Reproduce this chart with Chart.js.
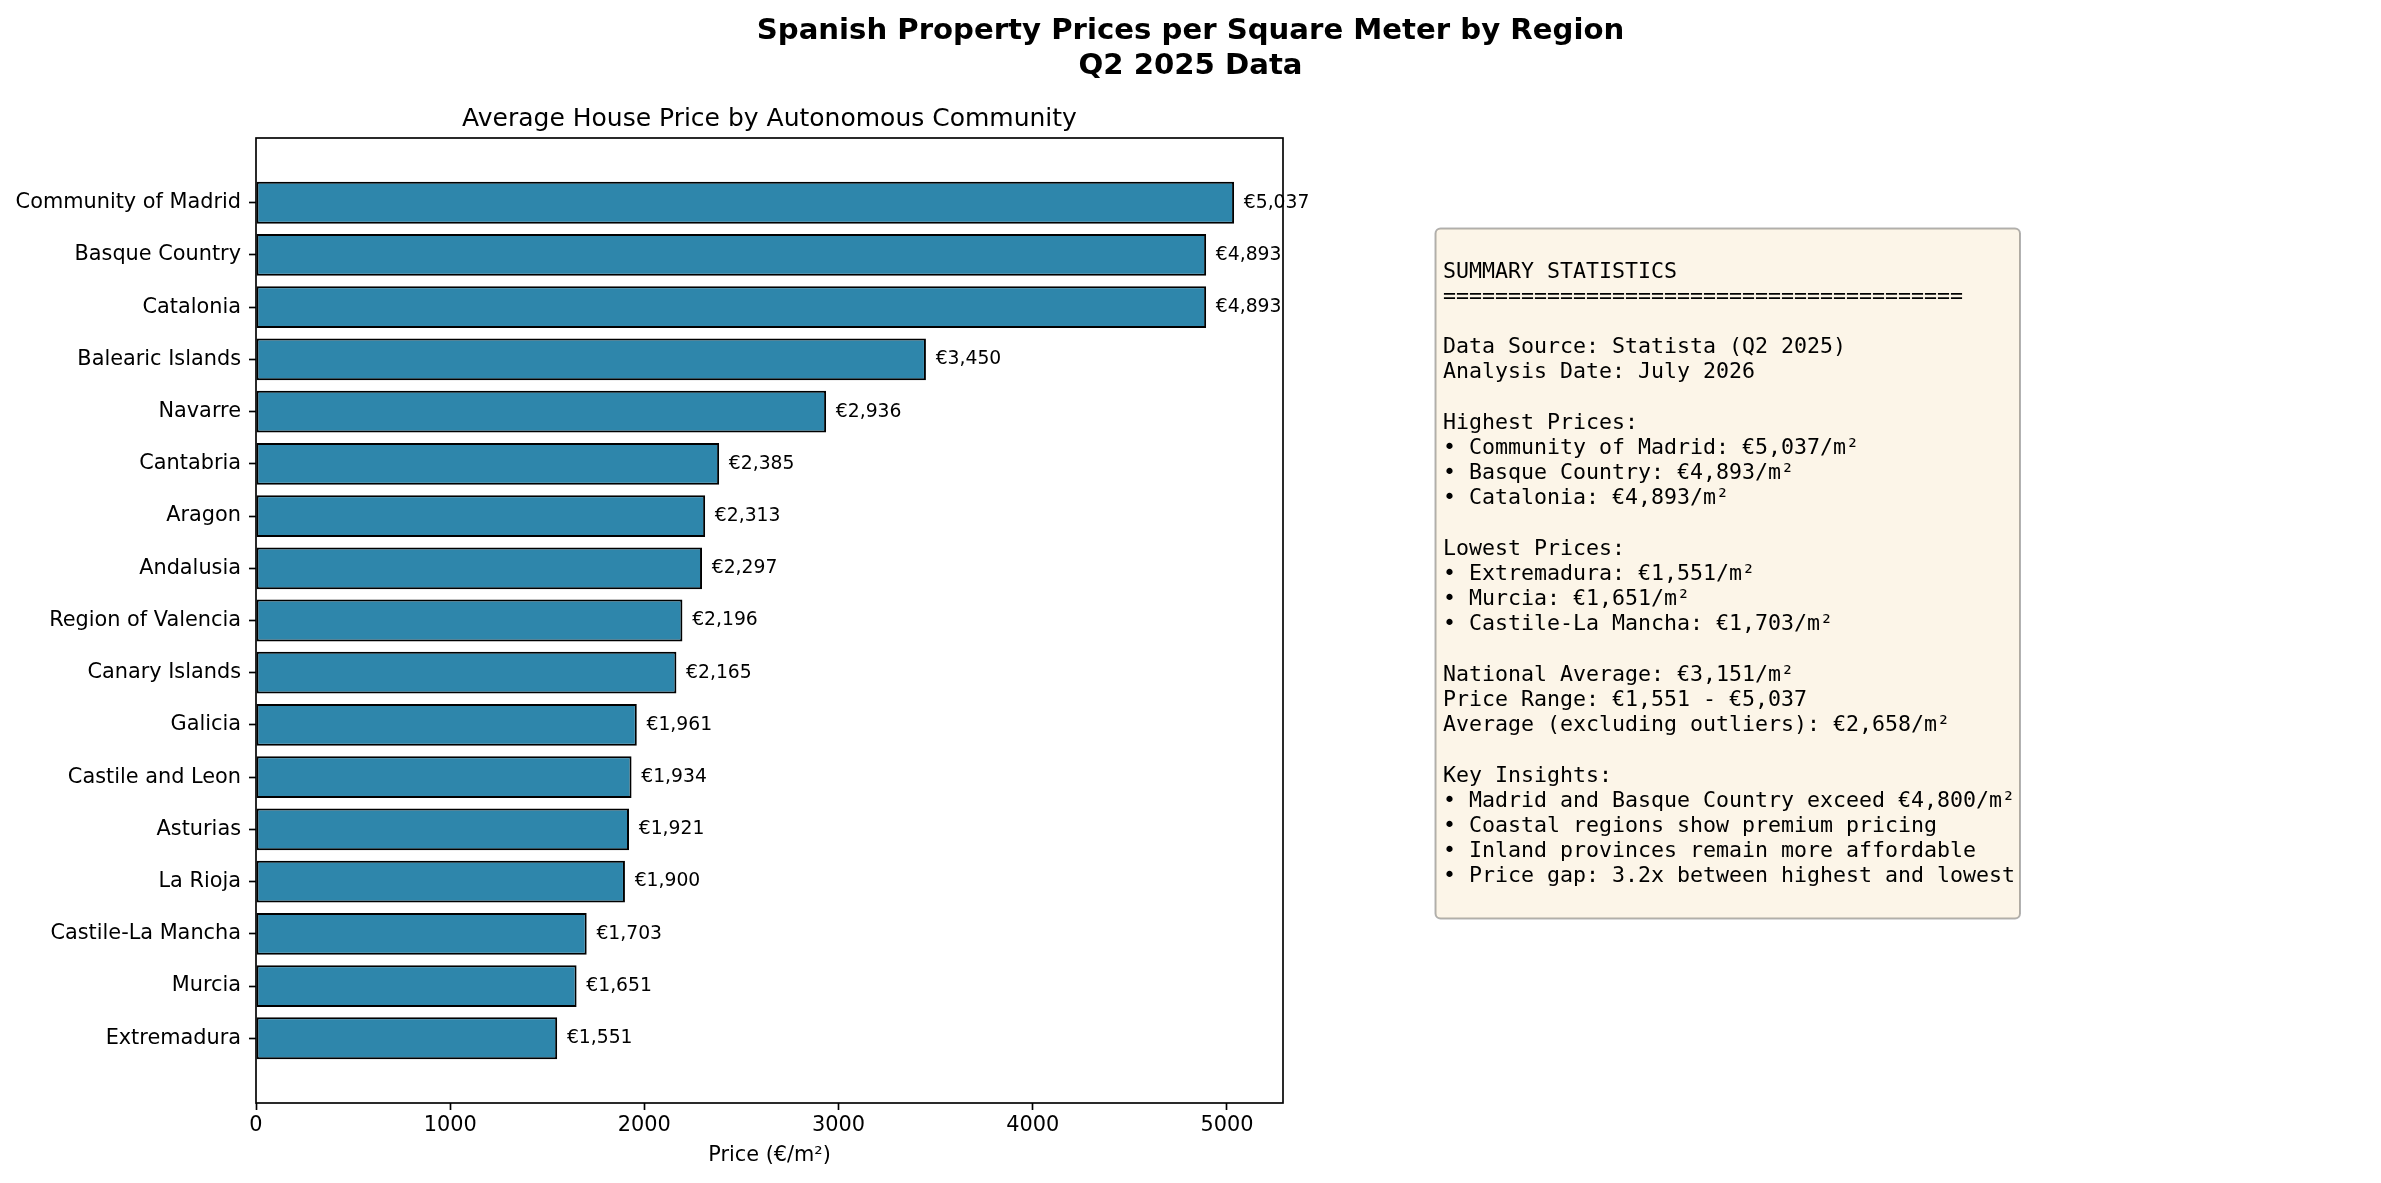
<!DOCTYPE html>
<html>
<head>
<meta charset="utf-8">
<title>Spanish Property Prices per Square Meter by Region</title>
<script src="https://cdn.jsdelivr.net/npm/chart.js@4.4.1/dist/chart.umd.min.js"></script>
<style>
  html, body { margin: 0; padding: 0; background: #fff; }
  #wrap { width: 2381px; height: 1183px; }
</style>
</head>
<body>
<div id="wrap"><canvas id="priceChart" width="2381" height="1183"></canvas></div>
<script>
// === Data ===
const regions = [
  "Community of Madrid", "Basque Country", "Catalonia", "Balearic Islands",
  "Navarre", "Cantabria", "Aragon", "Andalusia", "Region of Valencia",
  "Canary Islands", "Galicia", "Castile and Leon", "Asturias", "La Rioja",
  "Castile-La Mancha", "Murcia", "Extremadura",
];
const prices = [
  5037, 4893, 4893, 3450, 2936, 2385, 2313, 2297, 2196,
  2165, 1961, 1934, 1921, 1900, 1703, 1651, 1551,
];
const xTicks = [0, 1000, 2000, 3000, 4000, 5000];

const mainTitle = ["Spanish Property Prices per Square Meter by Region", "Q2 2025 Data"];

const summaryLines = [
  "SUMMARY STATISTICS",
  "========================================",
  "",
  "Data Source: Statista (Q2 2025)",
  "Analysis Date: July 2026",
  "",
  "Highest Prices:",
  "• Community of Madrid: €5,037/m²",
  "• Basque Country: €4,893/m²",
  "• Catalonia: €4,893/m²",
  "",
  "Lowest Prices:",
  "• Extremadura: €1,551/m²",
  "• Murcia: €1,651/m²",
  "• Castile-La Mancha: €1,703/m²",
  "",
  "National Average: €3,151/m²",
  "Price Range: €1,551 - €5,037",
  "Average (excluding outliers): €2,658/m²",
  "",
  "Key Insights:",
  "• Madrid and Basque Country exceed €4,800/m²",
  "• Coastal regions show premium pricing",
  "• Inland provinces remain more affordable",
  "• Price gap: 3.2x between highest and lowest",
];

// === Look ===
const FONT = "DejaVu Sans";
const MONO = "DejaVu Sans Mono";
const barColor = "#2E86AB";
const lineW = 1.67;

Chart.defaults.font.family = FONT;
Chart.defaults.color = "#000";

// matplotlib-style margins around the bars
const yPad = (regions.length - 1 + 0.8) * 0.05;

const extrasPlugin = {
  id: "extras",
  afterDatasetsDraw(chart) {
    const { ctx, chartArea } = chart;
    const xScale = chart.scales.x;

    // axes frame
    ctx.save();
    ctx.strokeStyle = "#000";
    ctx.lineWidth = lineW;
    ctx.strokeRect(chartArea.left, chartArea.top,
      chartArea.right - chartArea.left, chartArea.bottom - chartArea.top);

    // value labels
    ctx.font = "18.75px '" + FONT + "'";
    ctx.fillStyle = "#000";
    ctx.textAlign = "left";
    ctx.textBaseline = "middle";
    chart.getDatasetMeta(0).data.forEach((bar, i) => {
      const x = xScale.getPixelForValue(prices[i] + 50);
      ctx.fillText("€" + prices[i].toLocaleString("en-US"), x, bar.y);
    });
    ctx.restore();
  },
  afterDraw(chart) {
    const { ctx } = chart;
    ctx.save();

    // figure title
    ctx.font = "bold 29.17px '" + FONT + "'";
    ctx.fillStyle = "#000";
    ctx.textAlign = "center";
    ctx.textBaseline = "alphabetic";
    ctx.fillText(mainTitle[0], chart.width / 2, 38.5);
    ctx.fillText(mainTitle[1], chart.width / 2, 73.5);

    // summary box
    ctx.beginPath();
    ctx.roundRect(1435.5, 228.5, 584.5, 690, 5);
    ctx.fillStyle = "rgba(245, 222, 179, 0.3)";
    ctx.fill();
    ctx.strokeStyle = "rgba(0, 0, 0, 0.3)";
    ctx.lineWidth = 2;
    ctx.stroke();

    ctx.font = "21.6px '" + MONO + "'";
    ctx.fillStyle = "#000";
    ctx.textAlign = "left";
    ctx.textBaseline = "middle";
    summaryLines.forEach((line, i) => {
      ctx.fillText(line, 1443, 272 + i * 25.2);
    });
    ctx.restore();
  },
};

const ctx = document.getElementById("priceChart").getContext("2d");
new Chart(ctx, {
  type: "bar",
  data: {
    datasets: [
      {
        data: regions.map((r, i) => ({ x: prices[i], y: i })),
        backgroundColor: barColor,
        borderColor: "#000",
        borderWidth: 2,
        borderSkipped: false,
        barPercentage: 0.8,
        categoryPercentage: 1.0,
      },
    ],
  },
  options: {
    indexAxis: "y",
    responsive: false,
    animation: false,
    devicePixelRatio: 1,
    layout: { padding: { top: 90, left: 0, right: 1098, bottom: 0 } },
    plugins: {
      legend: { display: false },
      tooltip: { enabled: false },
      title: {
        display: true,
        text: "Average House Price by Autonomous Community",
        fullSize: false,
        color: "#000",
        font: { size: 25, weight: "normal" },
        padding: { top: 14.7, bottom: 3.3 },
      },
    },
    scales: {
      x: {
        type: "linear",
        min: 0,
        max: Math.max(...prices) * 1.05,
        afterBuildTicks: (scale) => {
          scale.ticks = xTicks.map((v) => ({ value: v }));
        },
        afterFit: (scale) => { scale.height = 80; },
        ticks: {
          color: "#000",
          font: { size: 20.83 },
          padding: 3,
          maxRotation: 0,
          callback: (v) => String(v),
        },
        grid: {
          drawOnChartArea: false,
          tickLength: 7,
          tickColor: "#000",
          tickWidth: lineW,
        },
        border: { display: false },
        title: {
          display: true,
          text: "Price (€/m²)",
          color: "#000",
          font: { size: 20.83 },
          padding: { top: 0, bottom: 14.5 },
        },
      },
      y: {
        type: "linear",
        reverse: true,
        offset: false,
        min: -0.4 - yPad,
        max: regions.length - 1 + 0.4 + yPad,
        afterBuildTicks: (scale) => {
          scale.ticks = regions.map((r, i) => ({ value: i }));
        },
        afterFit: (scale) => { scale.width = 256; },
        ticks: {
          color: "#000",
          font: { size: 20.83 },
          padding: 8,
          autoSkip: false,
          callback: (v) => regions[v],
        },
        grid: {
          offset: false,
          drawOnChartArea: false,
          tickLength: 7,
          tickColor: "#000",
          tickWidth: lineW,
        },
        border: { display: false },
      },
    },
  },
  plugins: [extrasPlugin],
});
</script>
</body>
</html>
